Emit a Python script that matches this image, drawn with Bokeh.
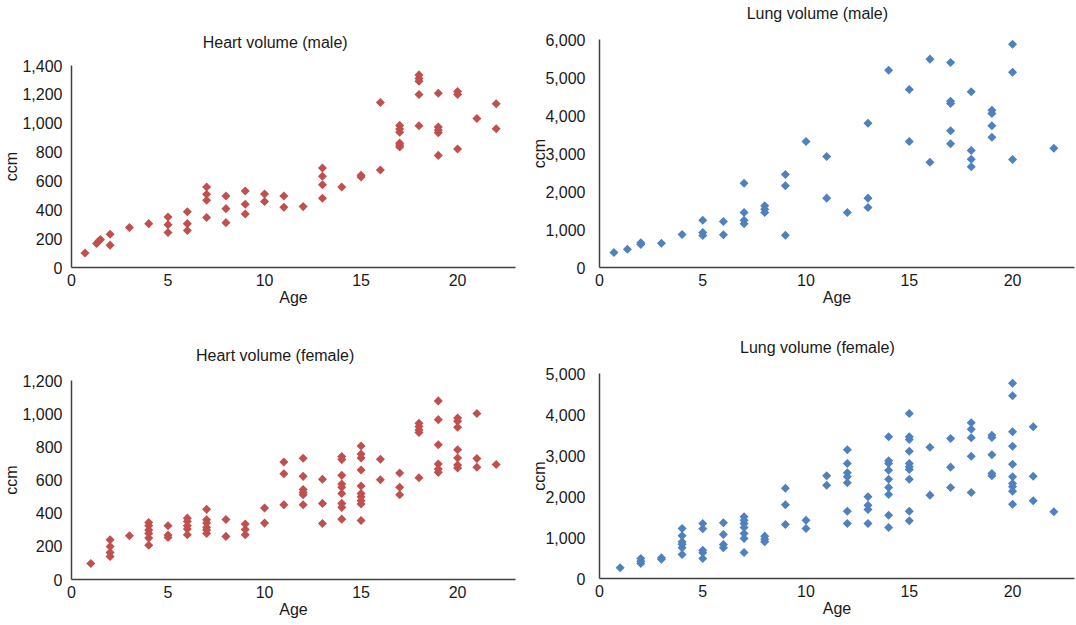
import numpy as np
from bokeh.plotting import figure
from bokeh.layouts import column, row
from bokeh.models import Range1d, FixedTicker, NumeralTickFormatter, LinearAxis
from bokeh.embed import file_html
from bokeh.resources import INLINE

# ---------------- data ----------------
heart_male_age = [0.7, 1.3, 1.4, 1.5, 2, 2, 3, 4, 5, 5, 5, 6, 6, 6, 7, 7, 7, 7, 8, 8, 8,
                  9, 9, 9, 10, 10, 11, 11, 12, 13, 13, 13, 13, 14, 15, 15, 16, 16,
                  17, 17, 17, 17, 17, 17, 18, 18, 18, 18, 18, 19, 19, 19, 19, 19,
                  20, 20, 20, 21, 22, 22]
heart_male_ccm = [100, 166, 182, 194, 231, 155, 277, 304, 350, 297, 242, 387, 304, 256,
                  558, 507, 466, 346, 496, 408, 311, 530, 438, 371, 510, 457, 496, 417,
                  422, 689, 632, 574, 480, 558, 640, 628, 1144, 676,
                  985, 960, 938, 862, 848, 835, 1335, 1310, 1291, 1199, 982,
                  1208, 973, 952, 934, 777, 1220, 1199, 821, 1033, 1135, 962]

lung_male_age = [0.7, 1.35, 2, 2, 3, 4, 5, 5, 5, 6, 6, 7, 7, 7, 7, 8, 8, 8, 9, 9, 9,
                 10, 11, 11, 12, 13, 13, 13, 14, 15, 15, 16, 16, 17, 17, 17, 17, 17,
                 18, 18, 18, 18, 19, 19, 19, 19, 20, 20, 20, 22]
lung_male_ccm = [395, 482, 605, 649, 640, 868, 1246, 921, 842, 1211, 860, 2219, 1447,
                 1246, 1149, 1623, 1535, 1447, 2447, 2149, 851, 3316, 2921, 1825, 1447,
                 3798, 1825, 1579, 5193, 4684, 3316, 5483, 2772, 5395, 4377, 4316, 3597,
                 3254, 4623, 3079, 2851, 2649, 4140, 4053, 3728, 3430, 5877, 5140, 2842,
                 3140]

heart_female_age = [1, 2, 2, 2, 2, 3, 4, 4, 4, 4, 4, 4, 5, 5, 5, 6, 6, 6, 6, 6,
                    7, 7, 7, 7, 7, 7, 8, 8, 9, 9, 9, 10, 10, 11, 11, 11,
                    12, 12, 12, 12, 12, 12, 13, 13, 13,
                    14, 14, 14, 14, 14, 14, 14, 14, 14,
                    15, 15, 15, 15, 15, 15, 15, 15, 15, 15,
                    16, 16, 17, 17, 17, 18, 18, 18, 18, 18,
                    19, 19, 19, 19, 19, 19, 20, 20, 20, 20, 20, 20, 20,
                    21, 21, 21, 22]
heart_female_ccm = [97, 240, 199, 163, 139, 264, 344, 324, 298, 278, 250, 207, 324, 268,
                    254, 370, 350, 324, 304, 270, 423, 360, 340, 314, 298, 278, 362, 260,
                    334, 302, 270, 431, 340, 709, 638, 451,
                    731, 622, 542, 525, 511, 451, 604, 459, 338,
                    741, 723, 628, 576, 556, 519, 459, 435, 364,
                    805, 757, 733, 660, 564, 519, 499, 475, 455, 356,
                    725, 602, 642, 556, 511, 942, 922, 902, 886, 614,
                    1077, 964, 813, 697, 666, 646, 974, 954, 918, 783, 733, 691, 672,
                    1001, 729, 677, 693]

lung_female_age = [1, 2, 2, 2, 3, 3, 4, 4, 4, 4, 4, 4, 5, 5, 5, 5, 5, 6, 6, 6, 6,
                   7, 7, 7, 7, 7, 7, 7, 8, 8, 8, 9, 9, 9, 10, 10, 11, 11,
                   12, 12, 12, 12, 12, 12, 12, 13, 13, 13, 13,
                   14, 14, 14, 14, 14, 14, 14, 14, 14,
                   15, 15, 15, 15, 15, 15, 15, 15, 15, 15,
                   16, 16, 17, 17, 17, 18, 18, 18, 18, 18, 19, 19, 19, 19, 19,
                   20, 20, 20, 20, 20, 20, 20, 20, 20, 20, 21, 21, 21, 22]
lung_female_ccm = [260, 488, 423, 366, 504, 472, 1220, 1041, 894, 837, 748, 585,
                   1341, 1211, 691, 626, 488, 1358, 1073, 829, 748,
                   1504, 1423, 1341, 1244, 1098, 976, 634, 1033, 959, 894,
                   2203, 1797, 1317, 1423, 1220, 2504, 2276,
                   3138, 2805, 2577, 2480, 2333, 1642, 1341, 1992, 1789, 1683, 1341,
                   3455, 2870, 2805, 2642, 2423, 2220, 2049, 1545, 1244,
                   4024, 3455, 3390, 3106, 2805, 2724, 2659, 2423, 1642, 1407,
                   3203, 2033, 3415, 2716, 2220, 3797, 3642, 3431, 2984, 2098,
                   3496, 3439, 3016, 2561, 2504,
                   4764, 4455, 3577, 3228, 2789, 2480, 2317, 2236, 2130, 1813,
                   3699, 2496, 1894, 1626]

x_ticks = [0, 5, 10, 15, 20]
titles = ["Heart volume (male)", "Lung volume (male)",
          "Heart volume (female)", "Lung volume (female)"]
TITLE_POS = 10.55   # age at which each panel title is centred

RED = "#C0504D"
BLUE = "#4F81BD"
FONT = "Liberation Sans"
TXT = "#1a1a1a"


def panel(ages, vols, title, color, ymax, ystep, w, h, bl, br, bt, bb,
          ylab_stand, ystand, t_stand):
    p = figure(width=w, height=h, output_backend="svg", toolbar_location=None,
               x_range=Range1d(0, 23), y_range=Range1d(0, ymax),
               min_border_left=bl, min_border_right=br,
               min_border_top=bt, min_border_bottom=bb)
    p.frame_align = False
    p.outline_line_color = None
    p.grid.visible = False
    p.background_fill_color = "white"
    p.border_fill_color = "white"
    p.scatter(ages, vols, marker="square", angle=np.pi / 4, size=6.4,
              fill_color=color, line_color=None)
    p.xaxis.ticker = FixedTicker(ticks=x_ticks)
    p.yaxis.ticker = FixedTicker(ticks=list(range(0, ymax + 1, ystep)))
    p.yaxis.formatter = NumeralTickFormatter(format="0,0")
    for ax in (p.xaxis[0], p.yaxis[0]):
        ax.axis_line_color = "#404040"
        ax.axis_line_width = 1.5
        ax.major_tick_out = 0
        ax.major_tick_in = 0
        ax.minor_tick_out = 0
        ax.minor_tick_in = 0
        ax.major_label_text_font = FONT
        ax.major_label_text_font_size = "16px"
        ax.major_label_text_color = TXT
        ax.axis_label_text_font = FONT
        ax.axis_label_text_font_size = "16px"
        ax.axis_label_text_font_style = "normal"
        ax.axis_label_text_color = TXT
    p.xaxis.axis_label = "Age"
    p.xaxis.major_label_standoff = 6
    p.xaxis.axis_label_standoff = 0
    p.yaxis.axis_label = "ccm"
    p.yaxis.major_label_standoff = ylab_stand
    p.yaxis.axis_label_standoff = ystand
    # panel title drawn as the single label of an invisible top axis
    top = LinearAxis(ticker=FixedTicker(ticks=[TITLE_POS]),
                     major_label_overrides={TITLE_POS: title},
                     axis_line_color=None, major_tick_line_color=None,
                     major_tick_out=0, major_tick_in=0,
                     minor_tick_out=0, minor_tick_in=0,
                     major_label_standoff=t_stand,
                     major_label_text_font=FONT,
                     major_label_text_font_size="16px",
                     major_label_text_color=TXT)
    p.add_layout(top, "above")
    return p


p1 = panel(heart_male_age, heart_male_ccm, titles[0], RED, 1400, 200,
           528, 325, 69, 13, 65, 58, 9, -1, 15)
p2 = panel(lung_male_age, lung_male_ccm, titles[1], BLUE, 6000, 1000,
           548, 325, 66, 2, 39, 58, 14, -6, 18)
p3 = panel(heart_female_age, heart_female_ccm, titles[2], RED, 1200, 200,
           528, 300, 69, 13, 55, 46, 9, -1, 17)
p4 = panel(lung_female_age, lung_female_ccm, titles[3], BLUE, 5000, 1000,
           548, 300, 66, 2, 48, 47, 14, -6, 18)

layout = column(row(p1, p2), row(p3, p4))
open("out.html", "w").write(file_html(layout, INLINE))
